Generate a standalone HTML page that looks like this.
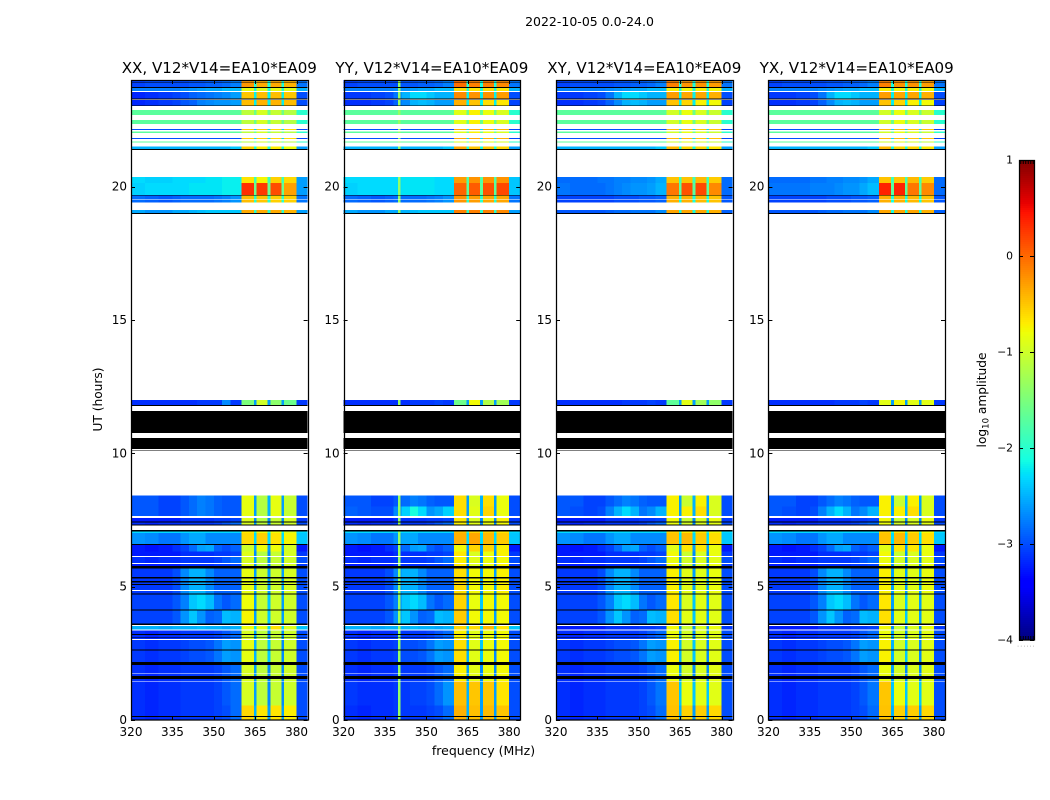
<!DOCTYPE html>
<html>
<head>
<meta charset="utf-8">
<title>UT vs frequency spectrograms</title>
<style>
html,body{margin:0;padding:0;background:#fff;width:1050px;height:800px;overflow:hidden}
svg{display:block}
text{font-family:"DejaVu Sans","Liberation Sans",sans-serif;fill:#000}
</style>
</head>
<body>
<svg id="chart" xmlns="http://www.w3.org/2000/svg" width="1050" height="800" viewBox="0 0 1050 800"></svg>
<script>
// ---------- data ----------
const panelTitles = ['XX, V12*V14=EA10*EA09','YY, V12*V14=EA10*EA09','XY, V12*V14=EA10*EA09','YX, V12*V14=EA10*EA09'];
const panelNames = ['xx','yy','xy','yx'];
const xTicks = [320,335,350,365,380];
const yTicks = [0,5,10,15,20];
const cbarTicks = [-4,-3,-2,-1,0,1];
const cbarLabels = ['\u22124','\u22123','\u22122','\u22121','0','1'];
// channel-group edges, MHz
const freqEdges = [320,325,330,335,338,341,344,347,350,353,356,360,364.5,365.5,369.5,370.5,374.5,375.5,380,384];
// log10 amplitude for each channel group
const spectra = {
  hot:    [-3.15,-3.2,-3.15,-3.15,-3.1,-3.1,-3.1,-3.1,-3.05,-3,-2.85,-0.6,-2.5,-0.68,-2.6,-0.66,-2.6,-0.72,-3],
  hotY:   [-3.1,-3.15,-3.15,-3.15,-3.1,-3.1,-3.05,-3.05,-3,-2.85,-2.65,-0.68,-2.5,-0.72,-2.6,-0.72,-2.6,-0.88,-3],
  lowC:   [-3.15,-3.2,-3.15,-3.15,-3.1,-3.1,-3.1,-3.1,-3.05,-2.95,-2.8,-0.62,-2.4,-0.95,-2.4,-1.0,-2.4,-1.0,-3],
  base:   [-3.15,-3.2,-3.15,-3.15,-3.1,-3.1,-3.1,-3.1,-3.05,-2.95,-2.85,-0.95,-2.6,-1.1,-2.7,-1.05,-2.7,-1.0,-3],
  patch:  [-3.1,-3.15,-3.1,-3.1,-3.05,-3,-3,-2.95,-2.8,-2.6,-2.65,-0.85,-2.5,-1.1,-2.4,-1.05,-2.7,-1.0,-3],
  band35: [-2.5,-2.5,-2.55,-2.5,-2.5,-2.5,-2.45,-2.5,-2.5,-2.55,-2.5,-0.8,-2.3,-0.85,-2.3,-0.65,-2.3,-0.9,-2.4],
  blob1:  [-3.05,-3.05,-3.05,-2.95,-2.75,-2.4,-2.3,-2.45,-2.8,-2.95,-2.85,-0.8,-2.6,-1.05,-2.4,-1.0,-2.6,-1.0,-3],
  blob2:  [-3.05,-3.05,-3.05,-2.95,-2.65,-2.4,-2.65,-2.9,-2.85,-2.45,-2.5,-0.75,-2.6,-1.0,-2.4,-1.0,-2.6,-1.0,-3],
  blob3:  [-3.1,-3.1,-3.1,-3,-2.7,-2.5,-2.5,-2.7,-2.9,-2.9,-2.9,-0.85,-2.6,-1.0,-2.6,-1.0,-2.6,-0.95,-3],
  dim:    [-3.25,-3.25,-3.25,-3.25,-3.15,-3.15,-3.15,-3.15,-3.1,-3.1,-3.05,-0.9,-2.7,-1.15,-2.7,-1.05,-2.7,-0.95,-3.1],
  mid:    [-2.95,-2.95,-3.05,-3.05,-2.95,-2.85,-2.75,-2.8,-2.9,-2.95,-2.95,-0.85,-2.6,-1.15,-2.5,-0.85,-2.6,-1.05,-3],
  midB:   [-2.9,-2.95,-3,-3,-2.7,-2.35,-2.1,-2.3,-2.65,-2.55,-2.35,-0.85,-2.6,-1.1,-2.5,-0.8,-2.6,-1.05,-3],
  midC:   [-2.95,-3,-3.05,-3,-2.75,-2.5,-2.3,-2.5,-2.8,-2.7,-2.5,-0.85,-2.6,-0.85,-2.5,-0.75,-2.6,-1.05,-3],
  dark67: [-3.25,-3.3,-3.25,-3.15,-3.05,-2.85,-2.6,-2.55,-2.9,-3,-2.9,-1.0,-2.6,-0.8,-2.6,-0.8,-2.6,-0.95,-3.25],
  hits:   [-2.65,-2.7,-2.8,-2.8,-2.65,-2.55,-2.55,-2.7,-2.7,-2.7,-2.7,-0.6,-2.3,-0.55,-2.3,-0.65,-2.3,-0.75,-2.4],
  cyan:   [-2.3,-2.3,-2.3,-2.3,-2.3,-2.3,-2.3,-2.3,-2.3,-2.3,-2.3,-0.7,-2,-0.8,-2,-0.8,-2,-0.9,-2.3],
  b12a:   [-3.15,-3.15,-3.15,-3.15,-3.15,-3.15,-3.1,-3.1,-3.1,-2.7,-3.1,-1.5,-2.6,-1,-2.6,-1.4,-2.6,-1.6,-3.1],
  b12b:   [-3.15,-3.15,-3.15,-3.15,-3.15,-3.15,-3.1,-3.1,-3.1,-3.05,-3.1,-1.8,-2.6,-1.0,-2.6,-1.4,-2.6,-1.5,-3.1],
  b12c:   [-3.15,-3.15,-3.15,-3.15,-3.15,-3.15,-3.1,-3.1,-3.1,-3.05,-3.1,-1.0,-2.6,-0.9,-2.6,-1.0,-2.6,-1.0,-3.1],
  cool19: [-2.55,-2.65,-2.65,-2.55,-2.55,-2.5,-2.45,-2.4,-2.4,-2.4,-2.4,-0.35,-2,-0.35,-2,-0.35,-2,-0.4,-2.6],
  cool19c:[-2.95,-2.95,-2.95,-2.95,-2.9,-2.85,-2.85,-2.8,-2.8,-2.8,-2.7,-0.45,-2.1,-0.45,-2.1,-0.45,-2.1,-0.5,-2.9],
  b196:   [-2.85,-2.9,-2.95,-2.9,-2.85,-2.85,-2.85,-2.85,-2.8,-2.75,-2.65,-0.45,-2,-0.5,-2,-0.55,-2,-0.55,-2.8],
  b196c:  [-3.05,-3.05,-3.05,-3.05,-3.05,-3,-3,-3,-2.95,-2.95,-2.9,-0.5,-2.1,-0.5,-2.1,-0.55,-2.1,-0.6,-2.95],
  h20a:   [-2.35,-2.3,-2.3,-2.3,-2.3,-2.25,-2.25,-2.25,-2.25,-2.2,-2.2,0.3,-1.6,0.25,-1.6,0.15,-1.6,-0.3,-2.6],
  h20b:   [-2.35,-2.3,-2.3,-2.3,-2.3,-2.25,-2.25,-2.25,-2.25,-2.3,-2.3,-0.2,-1.7,-0.15,-1.7,-0.1,-1.7,-0.05,-2.4],
  h20c:   [-2.8,-2.85,-2.85,-2.85,-2.8,-2.75,-2.7,-2.65,-2.65,-2.6,-2.5,-0.2,-1.7,0,-1.7,0.05,-1.7,-0.3,-2.85],
  h20d:   [-2.8,-2.8,-2.8,-2.75,-2.75,-2.75,-2.7,-2.65,-2.65,-2.55,-2.45,0.25,-1.7,0.25,-1.7,-0.2,-1.7,-0.3,-2.85],
  w20a:   [-2.3,-2.35,-2.35,-2.3,-2.3,-2.3,-2.3,-2.25,-2.25,-2.2,-2.2,-0.65,-1.9,-0.75,-1.9,-0.55,-1.9,-0.6,-2.6],
  w20b:   [-2.3,-2.3,-2.3,-2.3,-2.3,-2.25,-2.25,-2.25,-2.25,-2.3,-2.3,-0.5,-1.8,-0.45,-1.8,-0.45,-1.8,-0.45,-2.4],
  w20c:   [-2.85,-2.85,-2.85,-2.8,-2.8,-2.75,-2.75,-2.7,-2.7,-2.65,-2.55,-0.6,-1.9,-0.6,-1.9,-0.55,-1.9,-0.65,-2.85],
  c21:    [-2.5,-2.5,-2.5,-2.5,-2.5,-2.5,-2.5,-2.5,-2.5,-2.5,-2.4,-0.55,-2.1,-0.7,-2.1,-0.7,-2.1,-0.8,-2.6],
  green:  [-1.7,-1.7,-1.7,-1.7,-1.7,-1.7,-1.7,-1.7,-1.7,-1.7,-1.7,-1.1,-1.6,-0.95,-1.6,-1.05,-1.6,-1.15,-2.0],
  blueLn: [-3,-3,-3,-3,-3,-3,-3,-3,-3,-3,-3,-0.55,-2.3,-0.55,-2.3,-0.6,-2.3,-0.6,-3.05],
  top3:   [-3.2,-3.15,-3.1,-3.05,-2.95,-2.9,-2.75,-2.7,-2.65,-2.65,-2.6,-0.45,-2.2,-0.4,-2.2,-0.4,-2.2,-0.45,-3],
  top3b:  [-3.15,-3.15,-3.1,-3.05,-2.9,-2.7,-2.5,-2.45,-2.5,-2.6,-2.6,-0.6,-2.2,-0.7,-2.2,-0.85,-2.2,-0.9,-3.05],
  top2:   [-3.2,-3.15,-3.1,-3.05,-3,-2.9,-2.85,-2.8,-2.75,-2.7,-2.6,-0.5,-2.2,-0.45,-2.2,-0.45,-2.2,-0.5,-3],
  top2b:  [-3.1,-3.1,-3.05,-3,-2.8,-2.5,-2.3,-2.3,-2.4,-2.5,-2.5,-0.4,-2.2,-0.45,-2.2,-0.45,-2.2,-0.5,-3],
  top1:   [-2.75,-2.75,-2.75,-2.75,-2.7,-2.65,-2.6,-2.55,-2.55,-2.45,-2.45,-0.85,-2.1,-0.9,-2.1,-0.85,-2.1,-0.9,-2.5],
  top0:   [-3.05,-3,-3,-3,-3,-2.95,-2.95,-2.9,-2.9,-2.85,-2.75,-0.25,-2.1,-0.35,-2.1,-0.35,-2.1,-0.4,-2.8]
};
// panel-wide boost of the four bright sub-bands
const subbandBoost = [0,0.22,0.12,0.12];
// narrow interference lines: [panelIndex, startMHz, endMHz, log10 amplitude]
const rfiLines = [[1,339.7,340.6,-1.35]];
// [startHour, endHour, spectrum] or [startHour, endHour, xx, yy, xy, yx]; K = flagged black, W = no data
const timeBands = [
  [0,0.11,'hot'],[0.11,0.15,'K'],[0.15,0.55,'hot'],[0.55,1.44,'base','hotY','lowC','lowC'],[1.44,1.47,'W'],[1.47,1.53,'base'],
  [1.53,1.65,'K'],[1.65,1.72,'base'],[1.72,1.75,'W'],[1.75,2.07,'base'],[2.07,2.17,'K'],[2.17,2.61,'patch'],
  [2.61,2.65,'K'],[2.65,3.0,'patch'],[3.0,3.04,'W'],[3.04,3.07,'base'],[3.07,3.10,'K'],[3.10,3.19,'base'],
  [3.19,3.22,'K'],[3.22,3.36,'base'],[3.36,3.39,'W'],[3.39,3.52,'band35','band35','dim','dim'],[3.52,3.57,'W'],[3.57,3.62,'K'],
  [3.62,4.10,'blob2'],[4.10,4.15,'K'],[4.15,4.70,'blob1'],[4.70,4.75,'K'],[4.75,4.84,'blob3'],[4.84,4.87,'W'],
  [4.87,5.06,'blob3'],[5.06,5.10,'K'],[5.10,5.15,'blob3'],[5.15,5.22,'K'],[5.22,5.31,'blob3'],[5.31,5.37,'K'],
  [5.37,5.69,'blob3'],[5.69,5.77,'K'],[5.77,5.85,'dim'],[5.85,5.89,'W'],[5.89,6.11,'base'],[6.11,6.15,'W'],
  [6.15,6.31,'dim'],[6.31,6.56,'dark67'],[6.56,6.60,'K'],[6.60,7.01,'hits'],[7.01,7.06,'cyan'],[7.06,7.12,'K'],
  [7.12,7.29,'W'],[7.29,7.34,'K'],[7.34,7.41,'base'],[7.41,7.45,'K'],[7.45,7.57,'dim'],[7.57,7.65,'W'],
  [7.65,8.0,'mid','midB','midC','midC'],[8.0,8.41,'mid'],[8.41,10.11,'W'],[10.11,10.13,'K'],[10.13,10.17,'W'],[10.17,10.58,'K'],[10.58,10.77,'W'],
  [10.77,11.58,'K'],[11.58,11.77,'W'],[11.77,11.81,'K'],[11.81,12,'b12a','b12b','b12b','b12c'],[12,18.98,'W'],
  [18.98,19.01,'K'],[19.01,19.12,'cool19','cool19','cool19c','cool19c'],[19.12,19.41,'W'],
  [19.41,19.5,'b196','b196','b196c','b196c'],[19.5,19.52,'W'],[19.52,19.66,'b196','b196','b196c','b196c'],
  [19.66,19.69,'K'],[19.69,20.13,'h20a','h20b','h20c','h20d'],[20.13,20.37,'w20a','w20b','w20c','w20c'],
  [20.37,21.38,'W'],[21.38,21.41,'K'],[21.41,21.5,'c21'],[21.5,21.65,'W'],[21.65,21.69,'green'],[21.69,21.78,'W'],
  [21.78,21.82,'blueLn'],[21.82,22.02,'W'],[22.02,22.07,'green'],[22.07,22.12,'W'],[22.12,22.16,'blueLn'],
  [22.16,22.35,'W'],[22.35,22.5,'green'],[22.5,22.68,'W'],[22.68,22.87,'green'],[22.87,23.02,'W'],[23.02,23.05,'K'],
  [23.05,23.25,'top3','top3b','top3b','top3b'],[23.25,23.27,'W'],[23.27,23.3,'K'],[23.3,23.55,'top2','top2b','top2b','top2b'],[23.55,23.58,'W'],[23.58,23.7,'top1'],
  [23.7,23.74,'K'],[23.74,23.9,'top0'],[23.9,23.92,'K'],[23.92,24,'top0']
];

// ---------- layout ----------
const NS = 'http://www.w3.org/2000/svg';
const svg = document.getElementById('chart');
const panelLeft = [131,343.6,556,768.4];
const panelW = 176.6, plotTop = 80, plotBottom = 720;
const xMin = 320, xMax = 384, yMin = 0, yMax = 24, cMin = -4, cMax = 1;
const cbarX = 1019, cbarW = 15, cbarTop = 160, cbarBottom = 640;

function xScale(f, left){ return left + (f - xMin) / (xMax - xMin) * panelW; }
function yScale(h){ return plotBottom - (h - yMin) / (yMax - yMin) * (plotBottom - plotTop); }
function cScale(v){ return cbarBottom - (v - cMin) / (cMax - cMin) * (cbarBottom - cbarTop); }
function lerpStops(t, xs, ys){
  for (let i = 1; i < xs.length; i++) {
    if (t <= xs[i]) return ys[i-1] + (ys[i] - ys[i-1]) * (t - xs[i-1]) / (xs[i] - xs[i-1]);
  }
  return ys[ys.length-1];
}
function jet(v){
  const t = Math.max(0, Math.min(1, (v - cMin) / (cMax - cMin)));
  const r = lerpStops(t,[0,.35,.66,.89,1],[0,0,1,1,.5]);
  const g = lerpStops(t,[0,.125,.375,.64,.91,1],[0,0,1,1,0,0]);
  const b = lerpStops(t,[0,.11,.34,.65,1],[.5,1,1,0,0]);
  return 'rgb(' + Math.round(r*255) + ',' + Math.round(g*255) + ',' + Math.round(b*255) + ')';
}
function mk(tag, attrs, parent){
  const el = document.createElementNS(NS, tag);
  for (const k in attrs) el.setAttribute(k, attrs[k]);
  (parent || svg).appendChild(el);
  return el;
}
function label(str, attrs, parent, name){
  const el = mk('text', attrs, parent);
  el.textContent = str;
  
  
  return el;
}

label('2022-10-05 0.0-24.0', {x:589.5, y:26, 'font-size':'12.5', 'text-anchor':'middle'}, svg, 'figure-title');

panelNames.forEach(function(pn, p){
  const left = panelLeft[p];
  const g = mk('g', {}, svg);
  
  

  const heat = mk('g', {'shape-rendering':'crispEdges'}, g);
  
  

  timeBands.forEach(function(tb){
    const key = tb.length > 3 ? tb[2 + p] : tb[2];
    if (key === 'W') return;
    const y0 = yScale(tb[1]), y1 = yScale(tb[0]);
    if (key === 'K') {
      const flag = mk('rect', {x:left, y:y0, width:panelW, height:y1 - y0, fill:'#000'}, heat);
      
      
      return;
    }
    const values = spectra[key];
    values.forEach(function(val, c){
      const x0 = xScale(freqEdges[c], left), x1 = xScale(freqEdges[c+1], left);
      const isSub = (c >= 11 && c <= 17 && (c % 2) === 1);
      const cell = mk('rect', {x:x0, y:y0, width:x1 - x0, height:y1 - y0, fill:jet(val + (isSub ? subbandBoost[p] : 0))}, heat);
      
      
    });
    rfiLines.forEach(function(r){
      if (r[0] !== p) return;
      const x0 = xScale(r[1], left), x1 = xScale(r[2], left);
      const rfi = mk('rect', {x:x0, y:y0, width:x1 - x0, height:y1 - y0, fill:jet(r[3])}, heat);
      
      
    });
  });

  // ticks
  xTicks.forEach(function(t){
    const x = Math.round(xScale(t, left)) + 0.5;
    const a = mk('line', {x1:x, x2:x, y1:plotBottom, y2:plotBottom - 4, stroke:'#000'}, g);
    
    
    const b = mk('line', {x1:x, x2:x, y1:plotTop, y2:plotTop + 4, stroke:'#000'}, g);
    
    
    label(String(t), {x:xScale(t, left), y:736, 'font-size':'12', 'text-anchor':'middle'}, g, 'x-tick-label');
  });
  yTicks.forEach(function(t){
    const y = Math.round(yScale(t)) + 0.5;
    const a = mk('line', {x1:left, x2:left + 4, y1:y, y2:y, stroke:'#000'}, g);
    
    
    const b = mk('line', {x1:left + panelW, x2:left + panelW - 4, y1:y, y2:y, stroke:'#000'}, g);
    
    
    label(String(t), {x:left - 4, y:yScale(t) + 4, 'font-size':'12', 'text-anchor':'end'}, g, 'y-tick-label');
  });

  const fx0 = Math.round(left) + 0.5, fx1 = Math.round(left + panelW) + 0.5;
  const frame = mk('rect', {x:fx0, y:plotTop + 0.5, width:fx1 - fx0, height:plotBottom - plotTop - 0.5, fill:'none', stroke:'#000', 'stroke-width':'1.25'}, g);
  
  

  label(panelTitles[p], {x:left + panelW / 2, y:73, 'font-size':'15.1', 'text-anchor':'middle'}, g, 'panel-title');
});

label('frequency (MHz)', {x:483.5, y:755, 'font-size':'12.5', 'text-anchor':'middle'}, svg, 'x-axis-title');
label('UT (hours)', {x:0, y:0, transform:'translate(102,399.5) rotate(-90)', 'font-size':'12.2', 'text-anchor':'middle'}, svg, 'y-axis-title');

// colorbar
const cb = mk('g', {}, svg);


const ramp = mk('g', {'shape-rendering':'crispEdges'}, cb);


for (let py = cbarTop; py < cbarBottom; py += 2) {
  const v = cMin + (cbarBottom - py - 1) / (cbarBottom - cbarTop) * (cMax - cMin);
  const step = mk('rect', {x:cbarX, y:py, width:cbarW, height:2, fill:jet(v)}, ramp);
  
  
}
const cbFrame = mk('rect', {x:cbarX + 0.5, y:cbarTop + 0.5, width:cbarW, height:cbarBottom - cbarTop - 0.5, fill:'none', stroke:'#000', 'stroke-width':'1.25'}, cb);


cbarTicks.forEach(function(t, i){
  const y = Math.round(cScale(t)) + 0.5;
  const a = mk('line', {x1:cbarX, x2:cbarX + 4, y1:y, y2:y, stroke:'#000'}, cb);
  
  
  const b = mk('line', {x1:cbarX + cbarW, x2:cbarX + cbarW - 4, y1:y, y2:y, stroke:'#000'}, cb);
  
  
  label(cbarLabels[i], {x:1013, y:cScale(t) + 3.5, 'font-size':'10.8', 'text-anchor':'end'}, cb, 'colorbar-tick-label');
});
for (let i = 0; i < 6; i++) {
  const x = cbarX + 0.5 + (i + 0.5) * cbarW / 6;
  const a = mk('line', {x1:x, x2:x, y1:cbarTop, y2:cbarTop + 4, stroke:'#000'}, cb);
  
  
  const b = mk('line', {x1:x, x2:x, y1:cbarBottom, y2:cbarBottom - 4, stroke:'#000'}, cb);
  
  
}
label('......', {x:1026.5, y:646.5, 'font-size':'6', 'text-anchor':'middle', 'letter-spacing':'1.2', style:'fill:#777'}, cb, 'colorbar-offset-dots');

const cbTitle = mk('text', {transform:'translate(986,400) rotate(-90)', 'font-size':'12.2', 'text-anchor':'middle'}, cb);


const t1 = mk('tspan', {}, cbTitle); t1.textContent = 'log';
const t2 = mk('tspan', {dy:'2.5', 'font-size':'8.5'}, cbTitle); t2.textContent = '10';
const t3 = mk('tspan', {dy:'-2.5'}, cbTitle); t3.textContent = ' amplitude';
</script>
</body>
</html>
